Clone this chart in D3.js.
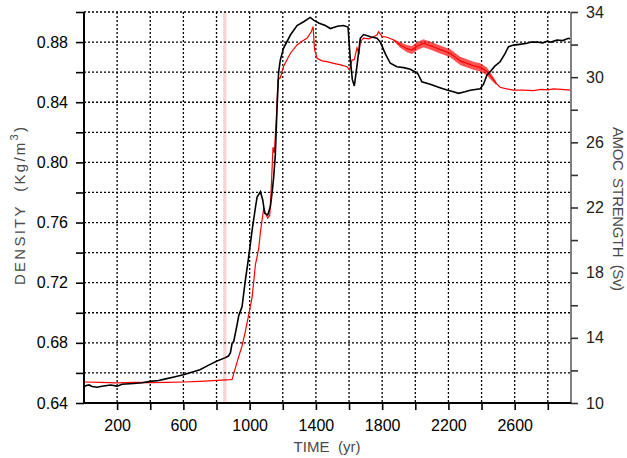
<!DOCTYPE html>
<html>
<head>
<meta charset="utf-8">
<script src="https://cdn.jsdelivr.net/npm/d3@7"></script>
<style>
  body { margin: 0; background: #fff; }
  svg { display: block; font-family: "Liberation Sans", Arial, Helvetica, sans-serif; }
  .title { white-space: pre; }
</style>
</head>
<body>
<div id="chart"></div>
<script>
// time axis (yr)
const timeTicks = [200, 400, 600, 800, 1000, 1200, 1400, 1600, 1800, 2000, 2200, 2400, 2600, 2800];
const timeLabels = [200, 600, 1000, 1400, 1800, 2200, 2600];

// left axis: density
const densTicks = [0.64, 0.66, 0.68, 0.70, 0.72, 0.74, 0.76, 0.78, 0.80, 0.82, 0.84, 0.86, 0.88, 0.90];
const densLabels = [0.64, 0.68, 0.72, 0.76, 0.80, 0.84, 0.88];

// right axis: AMOC strength
const amocTicks = [10, 12, 14, 16, 18, 20, 22, 24, 26, 28, 30, 32, 34];
const amocLabels = [10, 14, 18, 22, 26, 30, 34];

// highlighted year
const markYears = [840, 860];

// density series (black)
const densYears = [0, 10, 30, 50, 80, 100, 130, 160, 200, 230, 300, 350, 400, 450, 500, 550, 600, 650, 700, 750, 800, 850, 872,
  884, 894, 904, 924, 934, 954, 974, 994, 1015, 1035, 1045, 1065, 1079, 1091, 1109, 1125, 1135, 1145, 1155, 1165, 1175, 1185,
  1205, 1246, 1286, 1326, 1366, 1386, 1420, 1457, 1487, 1530, 1567, 1594, 1608, 1620, 1632, 1650, 1668, 1688, 1730, 1769, 1789,
  1820, 1849, 1889, 1930, 1970, 2014, 2040, 2090, 2140, 2191, 2230, 2261, 2300, 2332, 2392, 2412, 2432, 2452, 2480, 2512, 2540,
  2563, 2593, 2630, 2674, 2700, 2734, 2770, 2794, 2820, 2855, 2890, 2924, 2940];
const densValues = [0.6505, 0.6515, 0.652, 0.651, 0.6505, 0.651, 0.6515, 0.652, 0.6512, 0.6525, 0.653, 0.6535, 0.6544, 0.655,
  0.6562, 0.6575, 0.6588, 0.6605, 0.6621, 0.665, 0.6677, 0.6700, 0.6712,
  0.6735, 0.6797, 0.681, 0.692, 0.698, 0.704, 0.7215, 0.737, 0.755, 0.770, 0.777, 0.7805, 0.775, 0.7661, 0.765, 0.7705, 0.7794,
  0.790, 0.805, 0.835, 0.860, 0.868,
  0.876, 0.8847, 0.891, 0.8935, 0.8964, 0.8946, 0.8925, 0.891, 0.889, 0.8905, 0.891, 0.890, 0.868, 0.855, 0.8508, 0.866, 0.8825,
  0.885, 0.8835, 0.8825, 0.880,
  0.872, 0.8659, 0.8636, 0.863, 0.8619, 0.8592, 0.8536, 0.852, 0.850, 0.8481, 0.847, 0.8459, 0.847, 0.848, 0.849, 0.852, 0.858,
  0.8603, 0.864, 0.8669, 0.872,
  0.8769, 0.878, 0.8785, 0.8792, 0.880, 0.880, 0.8795, 0.8805, 0.880, 0.8814, 0.881, 0.8825, 0.882];

// AMOC series (red)
const amocYears = [0, 100, 202, 300, 401, 500, 600, 700, 805, 884, 894, 904, 934, 954, 974, 994, 1015, 1035, 1055, 1065, 1085,
  1095, 1109, 1121, 1129, 1141, 1149, 1161, 1171, 1185, 1205, 1246, 1286, 1316, 1346, 1372, 1383, 1392, 1407, 1437, 1467, 1507,
  1550, 1588, 1603, 1618, 1632, 1648, 1660, 1668, 1688, 1720, 1748, 1770, 1778, 1799, 1830, 1869, 1909, 1950, 1980, 2010, 2050,
  2100, 2150, 2211, 2271, 2312, 2351, 2392, 2432, 2460, 2490, 2512, 2550, 2593, 2650, 2713, 2760, 2800, 2834, 2880, 2940];
const amocValues = [11.29, 11.27, 11.23, 11.26, 11.25, 11.27, 11.29, 11.33, 11.39, 11.43, 11.45, 11.8, 12.85, 13.5, 14.4, 15.4,
  16.5, 18.5, 19.5, 20.5, 21.95,
  21.66, 21.35, 21.5, 22.89, 25.7, 25.35, 27.4, 29.85, 29.96, 30.67, 31.47, 31.98, 32.2, 32.39, 32.79, 33.1, 31.67, 31.16, 31.0,
  30.95, 30.85,
  30.75, 30.64, 30.44, 31.05, 31.08, 31.8, 31.4, 32.18, 32.4, 32.35, 32.48, 32.6, 32.79, 32.5, 32.45, 32.28, 31.98, 31.75, 31.67,
  31.9, 32.08,
  31.9, 31.7, 31.47, 31.0, 30.85, 30.7, 30.6, 30.36, 30.0, 29.6, 29.38, 29.28, 29.21, 29.2, 29.17, 29.25, 29.22, 29.28, 29.25, 29.21];

// envelope of the fast red oscillation
const rippleYears = [1870, 1909, 1950, 1980, 2010, 2050, 2100, 2150, 2211, 2271, 2312, 2351, 2392, 2432, 2460, 2490];
const rippleHi = [32.32, 32.15, 31.97, 31.92, 32.15, 32.33, 32.15, 31.95, 31.72, 31.25, 31.1, 30.95, 30.85, 30.6, 30.2, 29.7];
const rippleLo = [32.22, 31.8, 31.53, 31.42, 31.65, 31.83, 31.65, 31.45, 31.22, 30.75, 30.6, 30.45, 30.35, 30.12, 29.8, 29.5];

const W = 627, H = 458;
const plot = { left: 84, right: 571, top: 12, bottom: 403 };

const svg = d3.select("#chart").append("svg").attr("width", W).attr("height", H);

const x = d3.scaleLinear().domain([0, 2940]).range([plot.left, plot.right]);
const yL = d3.scaleLinear().domain([0.64, 0.90]).range([plot.bottom, plot.top]);
const yR = d3.scaleLinear().domain([10, 34]).range([plot.bottom, plot.top]);

// pink marker band
svg.append("rect")
  .attr("x", x(markYears[0])).attr("y", plot.top)
  .attr("width", x(markYears[1]) - x(markYears[0]))
  .attr("height", plot.bottom - plot.top)
  .attr("fill", "#f8d4d4");

// dotted grid
const grid = svg.append("g").attr("stroke", "#000").attr("stroke-width", 1.3).attr("stroke-dasharray", "2,2");
grid.selectAll("line.h").data(densTicks.slice(1)).join("line")
  .attr("x1", plot.left).attr("x2", plot.right)
  .attr("y1", d => yL(d)).attr("y2", d => yL(d));
grid.selectAll("line.v").data(timeTicks).join("line")
  .attr("y1", plot.top).attr("y2", plot.bottom)
  .attr("x1", d => x(d)).attr("x2", d => x(d));

// series
const ripple = rippleYears.map((t, i) => ({ t, hi: rippleHi[i], lo: rippleLo[i] }));
svg.append("path").datum(ripple)
  .attr("fill", "#ff1a1a").attr("opacity", 0.75)
  .attr("d", d3.area().x(d => x(d.t)).y0(d => yR(d.lo)).y1(d => yR(d.hi)));

const amoc = amocYears.map((t, i) => ({ t, v: amocValues[i] }));
svg.append("path").datum(amoc)
  .attr("fill", "none").attr("stroke", "#ff0000").attr("stroke-width", 1.2)
  .attr("d", d3.line().x(d => x(d.t)).y(d => yR(d.v)));

const dens = densYears.map((t, i) => ({ t, v: densValues[i] }));
svg.append("path").datum(dens)
  .attr("fill", "none").attr("stroke", "#000").attr("stroke-width", 1.6)
  .attr("d", d3.line().x(d => x(d.t)).y(d => yL(d.v)));

// axes
const leftAxis = svg.append("g").attr("transform", `translate(${plot.left},0)`)
  .call(d3.axisLeft(yL).tickValues(densTicks).tickSize(8).tickPadding(8)
    .tickFormat(d => densLabels.some(v => Math.abs(v - d) < 1e-6) ? d3.format(".2f")(d) : ""));

const rightAxis = svg.append("g").attr("transform", `translate(${plot.right},0)`)
  .call(d3.axisRight(yR).tickValues(amocTicks).tickSize(7).tickPadding(8)
    .tickFormat(d => amocLabels.includes(d) ? d : ""));

const bottomAxis = svg.append("g").attr("transform", `translate(0,${plot.bottom})`)
  .call(d3.axisBottom(x).tickValues(timeTicks).tickSize(7).tickPadding(10)
    .tickFormat(d => timeLabels.includes(d) ? d : ""));

[leftAxis, rightAxis, bottomAxis].forEach(g => {
  g.selectAll("text").attr("font-size", 16).attr("fill", "#000").attr("font-family", "Liberation Sans, Arial, sans-serif");
  g.selectAll(".tick line").attr("stroke-width", 1.6);
});
leftAxis.select(".domain").attr("stroke-width", 2).attr("d", `M0,${plot.top}V${plot.bottom}`);
bottomAxis.select(".domain").attr("stroke-width", 2).attr("d", `M${plot.left},0H${plot.right}`);
rightAxis.select(".domain").attr("stroke", "#808080").attr("stroke-width", 2).attr("d", `M0,${plot.top}V${plot.bottom}`);
rightAxis.selectAll(".tick line").attr("stroke", "#333");
rightAxis.selectAll("text").attr("fill", "#222");

// axis titles
const titleColor = "#4a4a4a";
const lt = svg.append("text").attr("class", "title")
  .attr("transform", "translate(24.5,206) rotate(-90)")
  .attr("text-anchor", "middle").attr("font-size", 15).attr("fill", titleColor)
  .attr("textLength", 158).attr("lengthAdjust", "spacing");
lt.append("tspan").text("DENSITY  (Kg/m");
lt.append("tspan").attr("font-size", 11).attr("dy", -7).text("3");
lt.append("tspan").attr("dy", 7).text(")");

svg.append("text").attr("class", "title")
  .attr("transform", "translate(613,209) rotate(90)")
  .attr("text-anchor", "middle").attr("font-size", 15).attr("fill", titleColor)
  .attr("textLength", 164).attr("lengthAdjust", "spacing")
  .text("AMOC  STRENGTH  (Sv)");

svg.append("text").attr("class", "title")
  .attr("x", 327).attr("y", 451.5)
  .attr("text-anchor", "middle").attr("font-size", 15).attr("fill", titleColor)
  .attr("textLength", 67).attr("lengthAdjust", "spacing")
  .text("TIME  (yr)");
</script>
</body>
</html>
